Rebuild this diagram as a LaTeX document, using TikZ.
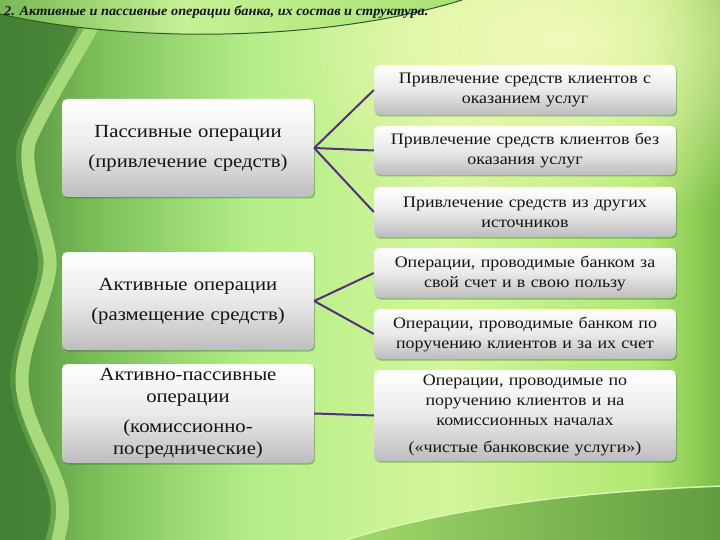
\documentclass[tikz,border=0pt]{standalone}
\usepackage{fontspec}
\setmainfont{Liberation Serif}[FakeStretch=1.12]
\newfontfamily\titlefont{Liberation Serif}[FakeStretch=1.06]
\usetikzlibrary{shadows,fadings}
\definecolor{bgA}{HTML}{4F8E3E}
\definecolor{bgB}{HTML}{7DC05A}
\definecolor{bgC}{HTML}{B4EE88}
\definecolor{bgD}{HTML}{D4F59A}
\definecolor{bgE}{HTML}{B0E870}
\definecolor{bgF}{HTML}{7CBE48}
\definecolor{darkleft}{HTML}{3F7A31}
\definecolor{bandc}{HTML}{A8D97A}
\definecolor{paleyel}{HTML}{F3FABB}
\definecolor{botA}{HTML}{A4DB6C}
\definecolor{botB}{HTML}{5E9C3E}
\definecolor{edgec}{HTML}{D9F5B2}
\definecolor{leafA}{HTML}{78B956}
\definecolor{leafB}{HTML}{C6F194}
\definecolor{leafC}{HTML}{A9E274}
\definecolor{leafline}{HTML}{2D5A1F}
\definecolor{boxmid}{HTML}{E9E9E9}
\definecolor{boxbot}{HTML}{BDBDBD}
\definecolor{textc}{HTML}{141414}
\definecolor{connc}{HTML}{54307E}
\pgfdeclarehorizontalshading{bgshade}{100bp}{color(0bp)=(bgA); color(25bp)=(bgA); color(31.9bp)=(bgB); color(42.4bp)=(bgC); color(56.25bp)=(bgD); color(70.1bp)=(bgE); color(75bp)=(bgF); color(100bp)=(bgF)}
\pgfdeclarehorizontalshading{leafshade}{100bp}{color(0bp)=(leafA); color(25bp)=(leafA); color(45bp)=(leafB); color(75bp)=(leafC); color(100bp)=(leafC)}
\tikzfading[name=glowfade, inner color=transparent!0, outer color=transparent!100]
\begin{document}
\begin{tikzpicture}[x=1pt,y=-1pt,
  boxbase/.style={rounded corners=5pt, shading=axis, top color=white, bottom color=boxbot, middle color=boxmid,
    align=center, inner sep=0pt, text=textc,
    drop shadow={shadow xshift=1.2pt, shadow yshift=-1.5pt, opacity=.35, fill=black!60!green}},
  lbox/.style={boxbase, minimum width=252pt, text width=244pt, font=\fontsize{18.5}{22}\selectfont},
  rbox/.style={boxbase, minimum width=302pt, text width=300pt, font=\fontsize{16}{20}\selectfont},
  conn/.style={draw=connc, line width=2pt}]
\useasboundingbox (0,0) rectangle (720,540);
\begin{scope}
\clip (0,0) rectangle (720,540);
% base background
\shade[shading=bgshade] (0,0) rectangle (720,540);
% pale yellow glow top right
\fill[paleyel, path fading=glowfade] (560,40) ellipse (300pt and 190pt);
% left dark region and wavy band
\fill[darkleft, opacity=.75] (0,0) -- (80,25) .. controls (65,55) and (30,110) .. (18,140)
  .. controls (8,170) and (35,230) .. (38,260) .. controls (40,290) and (10,340) .. (10,380)
  .. controls (10,420) and (45,470) .. (50,500) .. controls (52,520) and (48,530) .. (45,540) -- (0,540) -- cycle;
\draw[bandc, line width=13pt] (95,22) .. controls (80,50) and (45,105) .. (30,140)
  .. controls (20,170) and (48,230) .. (50,260) .. controls (52,290) and (22,340) .. (22,380)
  .. controls (22,420) and (58,470) .. (62,500) .. controls (64,520) and (60,530) .. (57,545);
% bottom shape
\shade[left color=botA, right color=botB] (330,545) .. controls (450,505) and (600,490) .. (725,486) -- (725,545) -- cycle;
\draw[edgec, line width=1.5pt] (330,545) .. controls (450,505) and (600,490) .. (725,486);
% title leaf
\shade[shading=leafshade] (0,0) -- (0,14) .. controls (120,42) and (320,44) .. (462,0) -- cycle;
\draw[leafline, line width=1pt] (0,14) .. controls (120,42) and (320,44) .. (462,0);
\end{scope}
\node[anchor=base west, text=textc, font=\titlefont\bfseries\itshape\fontsize{13.5}{15}\selectfont, inner sep=0pt]
  (title) at (4,16) {2. Активные и пассивные операции банка, их состав и структура.};
% left boxes
\node[lbox, minimum height=98pt] (b1) at (188,148) {Пассивные операции\\[8pt](привлечение средств)};
\node[lbox, minimum height=98pt] (b2) at (188,301) {Активные операции\\[8pt](размещение средств)};
\node[lbox, minimum height=99pt] (b3) at (188,413.5) {Активно-пассивные\\операции\\[8pt](комиссионно-\\посреднические)};
% right boxes
\node[rbox, minimum height=50pt] (r1) at (525,90) {Привлечение средств клиентов с\\оказанием услуг};
\node[rbox, minimum height=49pt] (r2) at (525,150.5) {Привлечение средств клиентов без\\оказания услуг};
\node[rbox, minimum height=50pt] (r3) at (525,212) {Привлечение средств из других\\источников};
\node[rbox, minimum height=50pt] (r4) at (525,273) {Операции, проводимые банком за\\свой счет и в свою пользу};
\node[rbox, minimum height=50pt] (r5) at (525,334) {Операции, проводимые банком по\\поручению клиентов и за их счет};
\node[rbox, minimum height=91pt] (r6) at (525,415.5) {Операции, проводимые по\\поручению клиентов и на\\комиссионных началах\\[7pt](«чистые банковские услуги»)};
% connectors
\draw[conn] (b1.east) -- (r1.west);
\draw[conn] (b1.east) -- (r2.west);
\draw[conn] (b1.east) -- (r3.west);
\draw[conn] (b2.east) -- (r4.west);
\draw[conn] (b2.east) -- (r5.west);
\draw[conn] (b3.east) -- (r6.west);
\end{tikzpicture}
\end{document}
